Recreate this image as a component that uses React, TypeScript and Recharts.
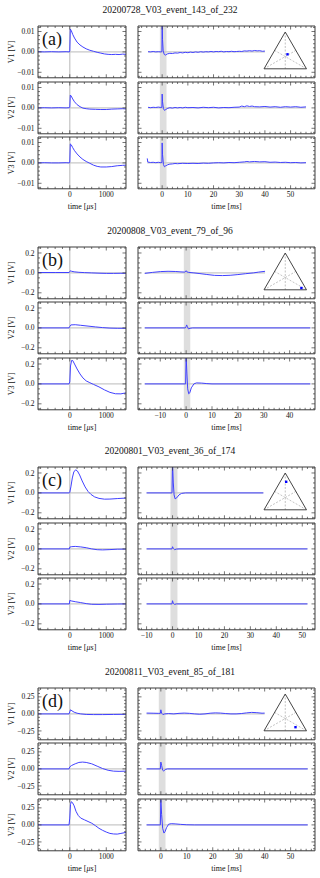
import React from "react";
import {
  LineChart,
  Line,
  XAxis,
  YAxis,
  ReferenceLine,
  ReferenceArea,
  ComposedChart,
  Scatter,
} from "recharts";

type Pt = [number, number];

const SERIF = '"Liberation Serif", "DejaVu Serif", serif';
const BLUE = "#4040ff";
const FRAME = "#3a3a3a";
const GUIDE = "#c8c8c8";
const INK = "#111";
const THIN = 0.01; // axis size; recharts skips axes of size 0

// ---- shared axis ticks ----
const usDomain = [-870, 1540];
const usTicks = [-800, -600, -400, -200, 0, 200, 400, 600, 800, 1000, 1200, 1400];
const usMajor = [0, 1000];
const usLabels = ["0", "1000"];

const msTicksAD = [-8, -6, -4, -2, 0, 2, 4, 6, 8, 10, 12, 14, 16, 18, 20, 22, 24, 26, 28, 30, 32, 34, 36, 38, 40, 42, 44, 46, 48, 50, 52, 54, 56, 58];
const msMajorAD = [0, 10, 20, 30, 40, 50];
const msLabelsAD = ["0", "10", "20", "30", "40", "50"];
const msTicksB = [-18, -16, -14, -12, -10, -8, -6, -4, -2, 0, 2, 4, 6, 8, 10, 12, 14, 16, 18, 20, 22, 24, 26, 28, 30, 32, 34, 36, 38, 40, 42, 44, 46, 48];
const msMajorB = [-10, 0, 10, 20, 30, 40];
const msLabelsB = ["\u221210", "0", "10", "20", "30", "40"];
const msTicksC = [-12, -10, -8, -6, -4, -2, 0, 2, 4, 6, 8, 10, 12, 14, 16, 18, 20, 22, 24, 26, 28, 30, 32, 34, 36, 38, 40, 42, 44, 46, 48, 50, 52, 54];
const msMajorC = [-10, 0, 10, 20, 30, 40, 50];
const msLabelsC = ["\u221210", "0", "10", "20", "30", "40", "50"];

const yTicksA = [-0.012, -0.01, -0.008, -0.006, -0.004, -0.002, 0, 0.002, 0.004, 0.006, 0.008, 0.01, 0.012];
const yMajorA = [-0.01, 0, 0.01];
const yLabelsA = ["\u22120.01", "0.00", "0.01"];
const yTicksBC = [-0.25, -0.2, -0.15, -0.1, -0.05, 0, 0.05, 0.1, 0.15, 0.2, 0.25];
const yMajorBC = [-0.2, 0, 0.2];
const yLabelsBC = ["\u22120.2", "0.0", "0.2"];
const yTicksD = [-0.35, -0.3, -0.25, -0.2, -0.15, -0.1, -0.05, 0, 0.05, 0.1, 0.15, 0.2, 0.25, 0.3, 0.35];
const yMajorD = [-0.25, 0, 0.25];
const yLabelsD = ["\u22120.25", "0.00", "0.25"];

// ---- (a) 20200728 ----
const aTitle = "20200728_V03_event_143_of_232";
const aUsV1: Pt[] = [[-870, 0.0001], [-700, 0.0], [-500, 0.0001], [-300, 0.0], [-100, 0.0001], [-10, 0.0], [0, 0.0005], [15, 0.0112], [40, 0.0105], [80, 0.0086], [130, 0.0068], [200, 0.0048], [280, 0.0034], [360, 0.0024], [450, 0.0015], [550, 0.0008], [650, 0.0003], [750, -0.0002], [850, -0.0006], [950, -0.001], [1050, -0.0012], [1150, -0.0013], [1250, -0.0012], [1350, -0.0013], [1450, -0.0011], [1540, -0.0012]];
const aUsV2: Pt[] = [[-870, 0.0], [-700, 0.0001], [-500, 0.0], [-300, 0.0001], [-100, 0.0], [-10, 0.0001], [0, 0.0003], [15, 0.0063], [40, 0.0058], [80, 0.0044], [130, 0.003], [200, 0.0016], [280, 0.0006], [360, -0.0001], [450, -0.0004], [550, -0.0006], [700, -0.0007], [850, -0.0008], [1000, -0.0008], [1150, -0.0006], [1300, -0.0005], [1450, -0.0004], [1540, -0.0005]];
const aUsV3: Pt[] = [[-870, 0.0], [-700, 0.0001], [-500, 0.0], [-300, 0.0], [-100, 0.0001], [-10, 0.0], [0, 0.0004], [15, 0.0093], [40, 0.0089], [80, 0.0075], [130, 0.006], [200, 0.0044], [280, 0.0029], [360, 0.0017], [450, 0.0007], [550, -0.0002], [650, -0.0011], [750, -0.0017], [850, -0.002], [1000, -0.002], [1150, -0.0018], [1300, -0.0014], [1450, -0.0012], [1540, -0.0011]];
const aMsV1: Pt[] = [[-5.5, 0.0001], [-4.5, 0.0], [-3.5, 0.0002], [-2.5, 0.0], [-1.5, 0.0001], [-0.5, 0.0], [-0.1, 0.0001], [0, 0.015], [0.15, 0.006], [0.4, 0.0005], [0.8, -0.0012], [1.2, -0.0016], [2, -0.001], [3, -0.0007], [4, -0.0008], [5, -0.0005], [6, -0.0006], [7, -0.0003], [8, -0.0005], [9, -0.0002], [10, -0.0004], [11, -0.0001], [12, -0.0003], [13, 0.0], [14, -0.0002], [15, 0.0001], [16, -0.0001], [17, 0.0001], [18, 0.0], [19, 0.0002], [20, 0.0], [21, 0.0002], [22, 0.0001], [23, 0.0003], [24, 0.0], [25, 0.0002], [26, 0.0001], [27, 0.0003], [28, 0.0001], [29, 0.0002], [30, 0.0003], [31, 0.0002], [32, 0.0005], [33, 0.0004], [34, 0.0006], [35, 0.0004], [36, 0.0007], [37, 0.0005], [38, 0.0006], [39, 0.0003], [40, 0.0004]];
const aMsV2: Pt[] = [[-5.5, 0.0003], [-4.5, 0.0001], [-3.5, 0.0003], [-2.5, 0.0002], [-1.5, 0.0004], [-0.5, 0.0002], [-0.1, 0.0003], [0, 0.0068], [0.15, 0.003], [0.5, -0.0004], [0.9, -0.0012], [1.4, -0.0008], [2.2, -0.0002], [3, 0.0001], [4, -0.0001], [5, 0.0002], [6, 0.0], [7, 0.0002], [8, 0.0], [9, 0.0003], [10, 0.0001], [12, 0.0002], [14, 0.0], [16, 0.0003], [18, 0.0001], [20, 0.0003], [22, 0.0], [24, 0.0002], [26, 0.0001], [28, 0.0003], [30, 0.0004], [31, 0.0009], [32, 0.0006], [33, 0.001], [34, 0.0007], [35, 0.0009], [36, 0.0006], [38, 0.0005], [40, 0.0007], [42, 0.0004], [44, 0.0006], [46, 0.0003], [48, 0.0006], [50, 0.0004], [52, 0.0006], [54, 0.0003], [56, 0.0005]];
const aMsV3: Pt[] = [[-5.8, 0.0022], [-5.6, 0.0004], [-4.5, 0.0002], [-3.5, 0.0003], [-2.5, 0.0001], [-1.5, 0.0003], [-0.5, 0.0001], [-0.1, 0.0002], [0, 0.0098], [0.15, 0.004], [0.5, -0.0008], [0.9, -0.0019], [1.4, -0.0014], [2.2, -0.0009], [3, -0.0006], [4, -0.0005], [5, -0.0003], [6, -0.0004], [8, -0.0002], [10, -0.0003], [12, -0.0002], [14, -0.0003], [16, -0.0001], [18, -0.0002], [20, 0.0], [22, 0.0001], [24, 0.0], [26, 0.0002], [28, 0.0001], [30, 0.0003], [32, 0.0005], [33, 0.0007], [34, 0.0005], [36, 0.0007], [38, 0.0005], [40, 0.0006], [42, 0.0003], [44, 0.0004], [46, 0.0002], [48, 0.0003], [50, 0.0001], [52, 0.0002], [54, 0.0], [56, 0.0001]];

// ---- (b) 20200808 ----
const bTitle = "20200808_V03_event_79_of_96";
const bUsV1: Pt[] = [[-870, 0.004], [-400, 0.004], [-20, 0.004], [0, 0.01], [20, 0.022], [50, 0.016], [120, 0.011], [250, 0.006], [400, 0.003], [600, 0.0], [800, -0.003], [1000, -0.005], [1200, -0.005], [1400, -0.004], [1540, -0.004]];
const bUsV2: Pt[] = [[-870, 0.0], [-20, 0.0], [0, 0.015], [30, 0.03], [150, 0.032], [300, 0.026], [500, 0.018], [700, 0.01], [900, 0.003], [1100, -0.002], [1300, -0.004], [1540, -0.004]];
const bUsV3: Pt[] = [[-870, 0.0], [-20, 0.0], [0, 0.02], [20, 0.18], [50, 0.235], [80, 0.235], [130, 0.2], [200, 0.15], [280, 0.1], [360, 0.06], [450, 0.03], [550, 0.012], [650, -0.005], [800, -0.03], [950, -0.06], [1100, -0.085], [1250, -0.099], [1400, -0.1], [1540, -0.09]];
const bMsV1: Pt[] = [[-16, -0.005], [-13, 0.005], [-10, 0.013], [-7, 0.016], [-4, 0.014], [-2, 0.01], [-0.5, 0.008], [0, 0.022], [0.3, 0.01], [1, 0.005], [3, 0.0], [5, -0.006], [8, -0.016], [11, -0.025], [14, -0.027], [17, -0.024], [20, -0.017], [23, -0.008], [26, 0.0], [28, 0.008], [30.5, 0.016]];
const bMsV2: Pt[] = [[-16, 0.0], [-0.3, 0.0], [0, 0.015], [0.2, 0.03], [0.5, 0.01], [0.9, -0.01], [1.5, -0.004], [2.5, 0.0], [48, 0.0]];
const bMsV3: Pt[] = [[-16, 0.0], [-0.2, 0.0], [0, 0.28], [0.3, 0.1], [0.6, -0.05], [1.0, -0.1], [1.4, -0.09], [2, -0.04], [3, 0.0], [4, 0.01], [6, 0.008], [8, 0.003], [10, 0.0], [48, 0.0]];

// ---- (c) 20200801 ----
const cTitle = "20200801_V03_event_36_of_174";
const cUsV1: Pt[] = [[-870, 0.0], [-10, 0.0], [0, 0.005], [30, 0.06], [70, 0.15], [110, 0.21], [160, 0.232], [210, 0.22], [270, 0.18], [340, 0.12], [420, 0.06], [500, 0.015], [580, -0.015], [680, -0.04], [800, -0.055], [950, -0.063], [1100, -0.062], [1300, -0.057], [1540, -0.052]];
const cUsV2: Pt[] = [[-870, 0.0], [-10, 0.0], [0, 0.018], [40, 0.022], [150, 0.025], [300, 0.02], [450, 0.012], [600, 0.0], [750, -0.008], [900, -0.01], [1100, -0.007], [1300, -0.003], [1540, -0.002]];
const cUsV3: Pt[] = [[-870, 0.0], [-10, 0.0], [0, 0.035], [40, 0.03], [150, 0.022], [300, 0.013], [450, 0.003], [600, -0.004], [800, -0.005], [1000, -0.003], [1300, -0.001], [1540, 0.0]];
const cMsV1: Pt[] = [[-10, 0.0], [-0.2, 0.0], [0, 0.3], [0.3, 0.1], [0.6, -0.02], [1.0, -0.06], [1.6, -0.05], [2.5, -0.02], [3.5, -0.005], [5, 0.0], [35, 0.0]];
const cMsV2: Pt[] = [[-10, 0.0], [-0.2, 0.0], [0, 0.022], [0.3, 0.005], [0.8, -0.008], [1.5, -0.002], [2.5, 0.0], [52, 0.0]];
const cMsV3: Pt[] = [[-10, 0.0], [-0.2, 0.0], [0, 0.032], [0.3, 0.005], [0.8, -0.005], [1.5, 0.0], [52, 0.0]];

// ---- (d) 20200811 ----
const dTitle = "20200811_V03_event_85_of_181";
const dUsV1: Pt[] = [[-870, 0.0], [-20, 0.0], [0, 0.03], [20, 0.06], [60, 0.045], [120, 0.025], [200, 0.01], [300, 0.0], [450, -0.008], [650, -0.01], [900, -0.01], [1200, -0.008], [1540, -0.006]];
const dUsV2: Pt[] = [[-870, 0.0], [-20, 0.0], [0, 0.03], [50, 0.05], [150, 0.075], [250, 0.095], [350, 0.1], [450, 0.095], [600, 0.075], [750, 0.04], [900, 0.005], [1050, -0.02], [1200, -0.033], [1350, -0.036], [1540, -0.033]];
const dUsV3: Pt[] = [[-870, 0.0], [-20, 0.0], [0, 0.1], [20, 0.3], [40, 0.34], [70, 0.33], [120, 0.28], [170, 0.2], [230, 0.14], [300, 0.1], [400, 0.075], [500, 0.05], [600, 0.025], [700, -0.01], [800, -0.05], [900, -0.08], [1000, -0.105], [1100, -0.125], [1200, -0.133], [1300, -0.135], [1400, -0.125], [1540, -0.11]];
const dMsV1: Pt[] = [[-5.5, 0.012], [-3, 0.01], [-1, 0.008], [-0.2, 0.008], [0, 0.06], [0.3, 0.01], [0.8, -0.01], [1.5, 0.0], [3, 0.005], [5, 0.0], [7, 0.008], [9, 0.012], [11, 0.008], [13, 0.0], [15, -0.005], [17, 0.0], [19, 0.01], [21, 0.015], [23, 0.012], [25, 0.005], [27, 0.0], [29, 0.0], [31, 0.005], [33, 0.015], [35, 0.022], [37, 0.018], [39, 0.01], [40, 0.012]];
const dMsV2: Pt[] = [[-5.5, 0.0], [-0.2, 0.0], [0, 0.1], [0.3, 0.05], [0.7, -0.02], [1.1, -0.03], [1.7, -0.01], [2.5, 0.0], [56.6, 0.0]];
const dMsV3: Pt[] = [[-5.5, 0.0], [-0.2, 0.0], [0, 0.37], [0.3, 0.15], [0.7, -0.05], [1.2, -0.12], [1.6, -0.1], [2.2, -0.04], [3, 0.01], [4, 0.018], [5.5, 0.015], [7.5, 0.008], [10, 0.002], [13, 0.0], [56.6, 0.0]];

// ternary inset: triangle outline and source position per event
const triX = [0, 1, 0.5, 0];
const triY = [0, 0, 0.866, 0];
const dotX = [0.553, 0.88, 0.522, 0.741];
const dotY = [0.341, 0.042, 0.659, 0.085];

const tags = ["(a)", "(b)", "(c)", "(d)"];
const channels = ["V1 [V]", "V2 [V]", "V3 [V]"];

const groups = [
  { title: aTitle, us: [aUsV1, aUsV2, aUsV3], ms: [aMsV1, aMsV2, aMsV3], yDomain: [-0.0127, 0.0127], yTicks: yTicksA, yMajor: yMajorA, yLabels: yLabelsA, msDomain: [-9.4, 59.5], msTicks: msTicksAD, msMajor: msMajorAD, msLabels: msLabelsAD, band: [-0.9, 1.7] },
  { title: bTitle, us: [bUsV1, bUsV2, bUsV3], ms: [bMsV1, bMsV2, bMsV3], yDomain: [-0.26, 0.26], yTicks: yTicksBC, yMajor: yMajorBC, yLabels: yLabelsBC, msDomain: [-18.6, 49.8], msTicks: msTicksB, msMajor: msMajorB, msLabels: msLabelsB, band: [-0.9, 1.6] },
  { title: cTitle, us: [cUsV1, cUsV2, cUsV3], ms: [cMsV1, cMsV2, cMsV3], yDomain: [-0.26, 0.26], yTicks: yTicksBC, yMajor: yMajorBC, yLabels: yLabelsBC, msDomain: [-13.3, 54.9], msTicks: msTicksC, msMajor: msMajorC, msLabels: msLabelsC, band: [-0.8, 1.9] },
  { title: dTitle, us: [dUsV1, dUsV2, dUsV3], ms: [dMsV1, dMsV2, dMsV3], yDomain: [-0.38, 0.38], yTicks: yTicksD, yMajor: yMajorD, yLabels: yLabelsD, msDomain: [-8.8, 59.4], msTicks: msTicksAD, msMajor: msMajorAD, msLabels: msLabelsAD, band: [-0.8, 1.8] },
];

// layout (px)
const GROUP_Y = [0, 220.6, 441.2, 661.8];
const ROW_Y = [26, 81.6, 137.2];
const ROW_H = 51.8;
const LEFT_X = 37.7;
const LEFT_W = 88;
const RIGHT_X = 137.7;
const RIGHT_W = 177;

const findMajor = (v: number, majors: number[]) => majors.findIndex((m) => Math.abs(m - v) < 1e-9);

// inward ticks drawn by hand (matplotlib style), labels only on majors
function makeTick(side: string, majors: number[], labels: string[], showLabels: boolean) {
  return (p: any) => {
    const v = p.payload.value;
    const idx = findMajor(v, majors);
    const len = idx >= 0 ? 3.5 : 2;
    const x = p.x;
    const y = p.y;
    let x2 = x;
    let y2 = y;
    if (side === "bottom") y2 = y - len;
    if (side === "top") y2 = y + len;
    if (side === "left") x2 = x + len;
    if (side === "right") x2 = x - len;
    let label = null;
    if (showLabels && idx >= 0) {
      label =
        side === "bottom" ? (
          <text x={x} y={y + 8.5} textAnchor="middle" fontSize={7.5} fontFamily={SERIF} fill={INK}>
            {labels[idx]}
          </text>
        ) : (
          <text x={x - 3.5} y={y + 2.6} textAnchor="end" fontSize={7.5} fontFamily={SERIF} fill={INK}>
            {labels[idx]}
          </text>
        );
    }
    return (
      <g>
        <line x1={x} y1={y} x2={x2} y2={y2} stroke={FRAME} strokeWidth={0.7} />
        {label}
      </g>
    );
  };
}

interface PanelProps {
  x: number;
  y: number;
  w: number;
  h: number;
  pts: Pt[];
  xDomain: number[];
  xTicks: number[];
  xMajor: number[];
  xLabels: string[];
  yDomain: number[];
  yTicks: number[];
  yMajor: number[];
  yLabels: string[];
  showX: boolean;
  showY: boolean;
  xUnit: string;
  yTitle: string;
  band?: number[];
  zeroX?: boolean;
}

function Panel(props: PanelProps) {
  const { x, y, w, h, pts, xDomain, xTicks, xMajor, xLabels, yDomain, yTicks, yMajor, yLabels, showX, showY, xUnit, yTitle, band, zeroX } = props;
  const padL = showY ? 37 : 3;
  const padB = showX ? 26 : 3;
  const padT = 3;
  const padR = 3;
  const data = pts.map(([t, v]) => ({ t, v }));
  const t0 = pts[0][0];
  const t1 = pts[pts.length - 1][0];

  return (
    <div style={{ position: "absolute", left: x - padL, top: y - padT }}>
      <LineChart width={w + padL + padR} height={h + padT + padB} data={data} margin={{ top: padT, right: padR, bottom: padB, left: padL }}>
        <XAxis
          xAxisId="b"
          dataKey="t"
          type="number"
          domain={xDomain}
          ticks={xTicks}
          interval={0}
          allowDataOverflow
          height={THIN}
          tickSize={0}
          tickMargin={0}
          tickLine={false}
          axisLine={{ stroke: FRAME, strokeWidth: 1 }}
          tick={makeTick("bottom", xMajor, xLabels, showX)}
          label={
            showX
              ? {
                  content: () => (
                    <text x={padL + w / 2} y={padT + h + 20} textAnchor="middle" fontSize={8} fontFamily={SERIF} fill={INK}>
                      time [<tspan fontStyle="italic">{xUnit}</tspan>]
                    </text>
                  ),
                }
              : undefined
          }
        />
        <XAxis
          xAxisId="t"
          orientation="top"
          dataKey="t"
          type="number"
          domain={xDomain}
          ticks={xTicks}
          interval={0}
          allowDataOverflow
          height={THIN}
          tickSize={0}
          tickMargin={0}
          tickLine={false}
          axisLine={{ stroke: FRAME, strokeWidth: 1 }}
          tick={makeTick("top", xMajor, xLabels, false)}
        />
        <YAxis
          yAxisId="l"
          type="number"
          domain={yDomain}
          ticks={yTicks}
          interval={0}
          allowDataOverflow
          width={THIN}
          tickSize={0}
          tickMargin={0}
          tickLine={false}
          axisLine={{ stroke: FRAME, strokeWidth: 1 }}
          tick={makeTick("left", yMajor, yLabels, showY)}
          label={
            showY
              ? {
                  content: () => (
                    <text
                      x={11}
                      y={padT + h / 2}
                      transform={`rotate(-90 11 ${padT + h / 2})`}
                      textAnchor="middle"
                      dominantBaseline="middle"
                      fontSize={8}
                      fontFamily={SERIF}
                      fill={INK}
                    >
                      {yTitle}
                    </text>
                  ),
                }
              : undefined
          }
        />
        <YAxis
          yAxisId="r"
          orientation="right"
          type="number"
          domain={yDomain}
          ticks={yTicks}
          interval={0}
          allowDataOverflow
          width={THIN}
          tickSize={0}
          tickMargin={0}
          tickLine={false}
          axisLine={{ stroke: FRAME, strokeWidth: 1 }}
          tick={makeTick("right", yMajor, yLabels, false)}
        />
        {band && (
          <ReferenceArea xAxisId="b" yAxisId="l" x1={band[0]} x2={band[1]} fill="#dedede" fillOpacity={1} stroke="none" />
        )}
        {zeroX && <ReferenceLine xAxisId="b" yAxisId="l" x={0} stroke={GUIDE} strokeWidth={1.3} />}
        <ReferenceLine
          xAxisId="b"
          yAxisId="l"
          segment={[
            { x: t0, y: 0 },
            { x: t1, y: 0 },
          ]}
          stroke={GUIDE}
          strokeWidth={1.3}
        />
        <Line
          xAxisId="b"
          yAxisId="l"
          dataKey="v"
          type="linear"
          stroke={BLUE}
          strokeWidth={1}
          strokeLinejoin="round"
          dot={false}
          activeDot={false}
          isAnimationActive={false}
        />
      </LineChart>
    </div>
  );
}

function Ternary({ top, i }: { top: number; i: number }) {
  const tri = triX.map((x, k) => ({ x, y: triY[k] }));
  const dot = [{ x: dotX[i], y: dotY[i] }];
  const w = 42.5;
  const h = 36.8;
  return (
    <div style={{ position: "absolute", left: 263.5 - 2, top: top - 2 }}>
      <ComposedChart width={w + 4} height={h + 4} data={tri} margin={{ top: 2, right: 2, bottom: 2, left: 2 }}>
        <XAxis dataKey="x" type="number" domain={[0, 1]} hide />
        <YAxis type="number" domain={[0, 0.866]} hide />
        <ReferenceLine segment={[{ x: 0.5, y: 0.866 }, { x: 0.5, y: 0 }]} stroke="#b4b4b4" strokeDasharray="2 1.5" strokeWidth={0.8} />
        <ReferenceLine segment={[{ x: 0, y: 0 }, { x: 0.75, y: 0.433 }]} stroke="#b4b4b4" strokeDasharray="2 1.5" strokeWidth={0.8} />
        <ReferenceLine segment={[{ x: 1, y: 0 }, { x: 0.25, y: 0.433 }]} stroke="#b4b4b4" strokeDasharray="2 1.5" strokeWidth={0.8} />
        <Line dataKey="y" type="linear" stroke="#444" strokeWidth={1} dot={false} activeDot={false} isAnimationActive={false} />
        <Scatter
          data={dot}
          dataKey="y"
          fill="#0000ff"
          isAnimationActive={false}
          shape={(p: any) => <rect x={p.cx - 1.2} y={p.cy - 1.2} width={2.4} height={2.4} fill="#0000ff" />}
        />
      </ComposedChart>
    </div>
  );
}

export default function App() {
  return (
    <div style={{ position: "absolute", left: 0, top: 0, width: 320, height: 878, background: "#fff", overflow: "hidden" }}>
      {groups.map((g, gi) => {
        const gy = GROUP_Y[gi];
        return (
          <React.Fragment key={gi}>
            <div
              style={{
                position: "absolute",
                left: 70,
                width: 200,
                top: gy + 4,
                textAlign: "center",
                fontFamily: SERIF,
                fontSize: 9.5,
                lineHeight: "12px",
                color: INK,
              }}
            >
              {g.title}
            </div>
            {[0, 1, 2].map((r) => (
              <React.Fragment key={r}>
                <Panel
                  x={LEFT_X}
                  y={gy + ROW_Y[r]}
                  w={LEFT_W}
                  h={ROW_H}
                  pts={g.us[r]}
                  xDomain={usDomain}
                  xTicks={usTicks}
                  xMajor={usMajor}
                  xLabels={usLabels}
                  yDomain={g.yDomain}
                  yTicks={g.yTicks}
                  yMajor={g.yMajor}
                  yLabels={g.yLabels}
                  showX={r === 2}
                  showY
                  xUnit={"\u03bcs"}
                  yTitle={channels[r]}
                  zeroX
                />
                <Panel
                  x={RIGHT_X}
                  y={gy + ROW_Y[r]}
                  w={RIGHT_W}
                  h={ROW_H}
                  pts={g.ms[r]}
                  xDomain={g.msDomain}
                  xTicks={g.msTicks}
                  xMajor={g.msMajor}
                  xLabels={g.msLabels}
                  yDomain={g.yDomain}
                  yTicks={g.yTicks}
                  yMajor={g.yMajor}
                  yLabels={g.yLabels}
                  showX={r === 2}
                  showY={false}
                  xUnit="ms"
                  yTitle={channels[r]}
                  band={g.band}
                />
              </React.Fragment>
            ))}
            <div
              style={{
                position: "absolute",
                left: 42,
                top: gy + 29,
                fontFamily: SERIF,
                fontSize: 18,
                lineHeight: "20px",
                color: INK,
              }}
            >
              {tags[gi]}
            </div>
            <Ternary top={gy + 32} i={gi} />
          </React.Fragment>
        );
      })}
    </div>
  );
}
